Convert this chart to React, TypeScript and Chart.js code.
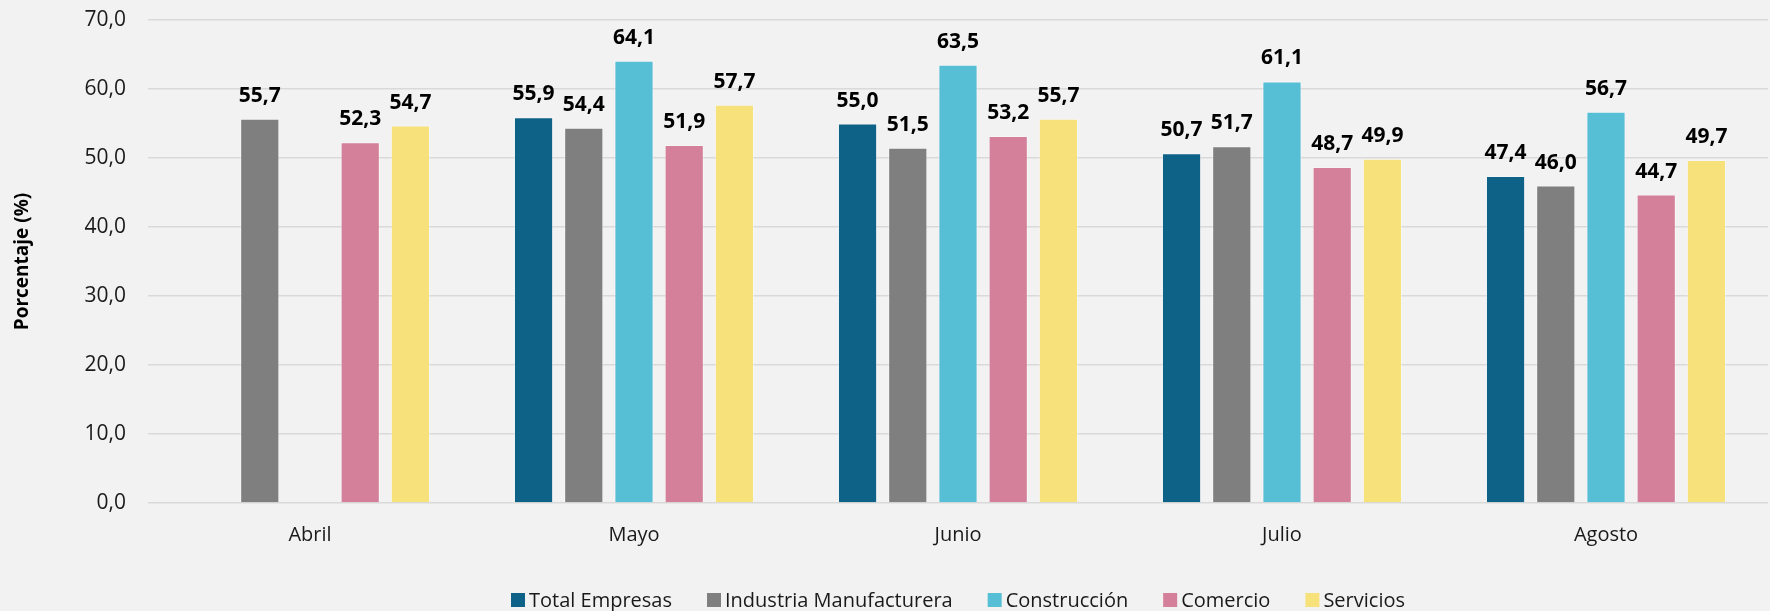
import React, { useEffect, useRef } from "react";
import { Chart, registerables } from "chart.js";

Chart.register(...registerables);

const categories = ["Abril", "Mayo", "Junio", "Julio", "Agosto"];
const seriesNames = ["Total Empresas", "Industria Manufacturera", "Construcción", "Comercio", "Servicios"];
const totalEmpresas = [null, 55.9, 55.0, 50.7, 47.4];
const industria = [55.7, 54.4, 51.5, 51.7, 46.0];
const construccion = [null, 64.1, 63.5, 61.1, 56.7];
const comercio = [52.3, 51.9, 53.2, 48.7, 44.7];
const servicios = [54.7, 57.7, 55.7, 49.9, 49.7];
const seriesColors = ["#0f6287", "#7f7f7f", "#56bed5", "#d4809a", "#f7e17b"];
const yTicksMin = 0;
const yTicksMax = 70;
const yTicksStep = 10;

const FONT = "'Open Sans', 'Noto Sans', sans-serif";
const fmt = (v: number) => v.toFixed(1).replace(".", ",");

const labelPlugin = {
  id: "barLabels",
  afterDatasetsDraw(chart: any) {
    const ctx = chart.ctx;
    ctx.save();
    ctx.font = `bold 21px ${FONT}`;
    ctx.fillStyle = "#000000";
    ctx.textAlign = "center";
    ctx.textBaseline = "alphabetic";
    chart.data.datasets.forEach((ds: any, i: number) => {
      const meta = chart.getDatasetMeta(i);
      meta.data.forEach((bar: any, j: number) => {
        const v = ds.data[j];
        if (v === null || v === undefined) return;
        ctx.fillText(fmt(v), bar.x, bar.y - 17);
      });
    });
    ctx.restore();
  },
};

const legendPlugin = {
  id: "customLegend",
  afterDraw(chart: any) {
    const ctx = chart.ctx;
    const area = chart.chartArea;
    ctx.save();
    ctx.font = `20px ${FONT}`;
    ctx.textBaseline = "middle";
    ctx.textAlign = "left";
    const box = 14;
    const gap = 4;
    const spacing = 35;
    const items = chart.data.datasets.map((ds: any) => ({
      text: ds.label,
      color: ds.backgroundColor,
      w: box + gap + ctx.measureText(ds.label).width,
    }));
    const total = items.reduce((s: number, it: any) => s + it.w, 0) + spacing * (items.length - 1);
    let x = (area.left + area.right) / 2 - total / 2;
    const y = 600;
    items.forEach((it: any) => {
      ctx.fillStyle = it.color;
      ctx.fillRect(x, y - box / 2, box, box);
      ctx.fillStyle = "#1a1a1a";
      ctx.fillText(it.text, x + box + gap, y + 1);
      x += it.w + spacing;
    });
    ctx.restore();
  },
};

const bgPlugin = {
  id: "bg",
  beforeDraw(chart: any) {
    const ctx = chart.ctx;
    ctx.save();
    ctx.fillStyle = "#f2f2f2";
    ctx.fillRect(0, 0, chart.width, chart.height);
    ctx.restore();
  },
};

export default function App() {
  const ref = useRef<HTMLCanvasElement | null>(null);
  useEffect(() => {
    if (!ref.current) return;
    const values = [totalEmpresas, industria, construccion, comercio, servicios];
    const chart = new Chart(ref.current, {
      type: "bar",
      data: {
        labels: categories,
        datasets: seriesNames.map((name, i) => ({
          label: name,
          data: values[i] as any,
          backgroundColor: seriesColors[i],
          borderColor: "rgba(255,255,255,0.35)",
          borderWidth: 1,
          categoryPercentage: 0.775,
          barPercentage: 0.78,
        })),
      },
      options: {
        responsive: false,
        animation: false,
        devicePixelRatio: 1,
        layout: { padding: { top: 20, right: 2, left: 0, bottom: 58 } },
        plugins: {
          legend: { display: false },
          tooltip: { enabled: false },
        },
        scales: {
          x: {
            grid: { display: false, drawTicks: false },
            border: { display: false },
            ticks: {
              color: "#1a1a1a",
              font: { family: FONT, size: 20 },
              padding: 20,
            },
            afterFit: (scale: any) => {
              scale.height = 50;
            },
          },
          y: {
            min: yTicksMin,
            max: yTicksMax,
            grid: { color: "#d9d9d9", lineWidth: 1.5, drawTicks: false },
            border: { display: false },
            ticks: {
              stepSize: yTicksStep,
              color: "#1a1a1a",
              font: { family: FONT, size: 21 },
              padding: 22,
              callback: (v: any) => fmt(Number(v)),
            },
            title: {
              display: true,
              text: "Porcentaje (%)",
              color: "#000000",
              font: { family: FONT, size: 19, weight: "bold" },
              padding: { top: 11, bottom: 4 },
            },
            afterFit: (scale: any) => {
              scale.width = 148;
              scale.paddingTop = 0;
              scale.paddingBottom = 0;
            },
          },
        },
      },
      plugins: [bgPlugin, labelPlugin, legendPlugin],
    });
    return () => chart.destroy();
  }, []);
  return (
    <div style={{ position: "fixed", left: 0, top: 0, width: 1770, height: 611, background: "#f2f2f2" }}>
      <canvas ref={ref} width={1770} height={611} style={{ display: "block" }} />
    </div>
  );
}
